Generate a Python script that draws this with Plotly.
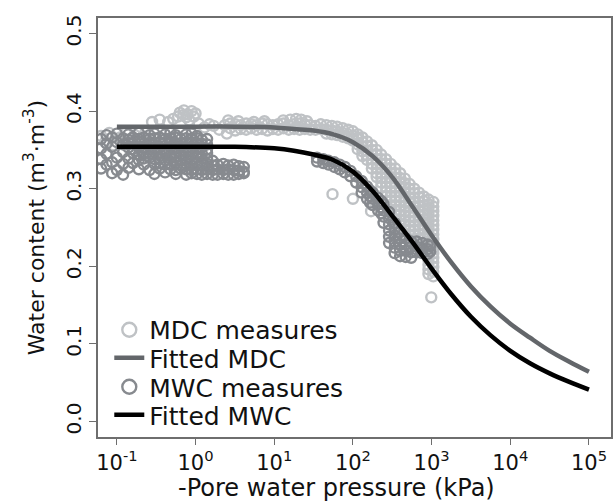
import plotly.graph_objects as go

# ---------------- data ----------------
# Fitted curves: -pore water pressure (kPa) and water content (m3/m3)
fit_p = [0.1, 0.316, 1, 3.16, 10, 17.8, 31.6, 56.2, 100, 178, 316, 562, 1000,
         1778, 3162, 5623, 10000, 17783, 31623, 56234, 100000]
fit_mdc = [0.380, 0.380, 0.380, 0.380, 0.379, 0.377, 0.375, 0.370, 0.360, 0.342,
           0.315, 0.278, 0.240, 0.205, 0.174, 0.148, 0.126, 0.108, 0.091, 0.077, 0.064]
fit_mwc = [0.354, 0.354, 0.354, 0.354, 0.352, 0.349, 0.344, 0.337, 0.322, 0.297,
           0.265, 0.232, 0.197, 0.164, 0.135, 0.111, 0.091, 0.075, 0.062, 0.051, 0.041]

# MDC measures (light grey circles)
mdc_p = [
    0.063, 0.071, 0.08, 0.09, 0.11, 0.13, 0.17, 0.23,
    0.28, 0.35, 0.45, 0.52, 0.60, 0.63, 0.70, 0.71, 0.76, 0.79, 0.83, 0.89, 0.95, 1.0, 1.1, 1.5,
    2.0, 2.75, 3.2, 3.75, 4.4, 5.1, 6.0, 7.0, 8.2, 9.6, 11.2, 13.1, 15.3, 17.9, 21, 24.5, 28.6,
    2.35, 2.75, 3.2, 3.75, 4.4, 5.1, 6.0, 7.0, 8.2, 9.6, 11.2, 13.1, 15.3, 17.9, 21, 24.5, 28.6, 33.5,
    2.6, 3.5, 5.5, 7.5, 13, 16, 19, 22, 26, 2.5, 1.3, 1.7,
    33.5, 39, 39, 46, 46, 46, 54, 54, 54, 63, 63, 63, 74, 74, 74, 87, 87, 87, 100, 100, 100, 117,
    115, 115, 115, 115,
    132, 132, 132, 132, 132,
    151, 151, 151, 151, 151,
    174, 174, 174, 174, 174, 174,
    200, 200, 200, 200, 200, 200, 200,
    229, 229, 229, 229, 229, 229, 229, 229,
    263, 263, 263, 263, 263, 263, 263, 263, 263,
    302, 302, 302, 302, 302, 302, 302, 302, 302, 302, 302,
    347, 347, 347, 347, 347, 347, 347, 347, 347, 347, 347, 347,
    398, 398, 398, 398, 398, 398, 398, 398, 398, 398, 398, 398, 398,
    457, 457, 457, 457, 457, 457, 457, 457, 457, 457, 457, 457, 457,
    525, 525, 525, 525, 525, 525, 525, 525, 525, 525, 525, 525, 525,
    603, 603, 603, 603, 603, 603, 603, 603, 603, 603, 603, 603, 603,
    692, 692, 692, 692, 692, 692, 692, 692, 692, 692, 692, 692, 692,
    794, 794, 794, 794, 794, 794, 794, 794, 794, 794, 794, 794, 794,
    912, 912, 912, 912, 912, 912, 912, 912, 912, 912, 912, 912, 912, 912, 912, 912, 912,
    1050, 1050, 1050, 1050, 1050, 1050, 1050, 1050, 1050, 1050, 1050, 1050, 1050, 1050, 1050, 1050, 1050,
    55, 100, 170, 990,
]
mdc_theta = [
    0.368, 0.360, 0.372, 0.356, 0.366, 0.372, 0.369, 0.372,
    0.386, 0.389, 0.386, 0.390, 0.393, 0.398, 0.395, 0.401, 0.392, 0.396, 0.388, 0.400, 0.393, 0.397, 0.384, 0.383,
    0.376, 0.378, 0.375, 0.377, 0.376, 0.378, 0.376, 0.377, 0.375, 0.377, 0.376, 0.378, 0.376, 0.377, 0.376, 0.377, 0.376,
    0.382, 0.384, 0.383, 0.382, 0.384, 0.383, 0.382, 0.384, 0.383, 0.382, 0.383, 0.384, 0.382, 0.383, 0.384, 0.383, 0.382, 0.381,
    0.388, 0.387, 0.386, 0.387, 0.388, 0.389, 0.390, 0.389, 0.387, 0.371, 0.379, 0.381,
    0.376, 0.383, 0.377, 0.382, 0.376, 0.371, 0.381, 0.375, 0.370, 0.380, 0.374, 0.369, 0.378, 0.372, 0.367, 0.376, 0.370, 0.365, 0.374, 0.368, 0.362, 0.366,
    0.370, 0.364, 0.357, 0.351,
    0.366, 0.360, 0.354, 0.348, 0.342,
    0.361, 0.355, 0.349, 0.343, 0.337,
    0.356, 0.350, 0.344, 0.338, 0.332, 0.326,
    0.350, 0.344, 0.338, 0.332, 0.326, 0.320, 0.315,
    0.344, 0.338, 0.332, 0.326, 0.320, 0.314, 0.308, 0.302,
    0.338, 0.332, 0.326, 0.320, 0.314, 0.308, 0.302, 0.296, 0.290,
    0.332, 0.326, 0.320, 0.314, 0.308, 0.302, 0.296, 0.290, 0.284, 0.278, 0.272,
    0.326, 0.320, 0.314, 0.308, 0.302, 0.296, 0.290, 0.284, 0.278, 0.272, 0.266, 0.260,
    0.320, 0.314, 0.308, 0.302, 0.296, 0.290, 0.284, 0.278, 0.272, 0.266, 0.260, 0.254, 0.248,
    0.313, 0.307, 0.301, 0.295, 0.289, 0.283, 0.277, 0.271, 0.265, 0.259, 0.253, 0.247, 0.241,
    0.306, 0.300, 0.294, 0.288, 0.282, 0.276, 0.270, 0.264, 0.258, 0.252, 0.246, 0.240, 0.234,
    0.300, 0.294, 0.288, 0.282, 0.276, 0.270, 0.264, 0.258, 0.252, 0.246, 0.240, 0.234, 0.229,
    0.295, 0.289, 0.283, 0.277, 0.271, 0.265, 0.259, 0.253, 0.247, 0.241, 0.235, 0.229, 0.224,
    0.290, 0.284, 0.278, 0.272, 0.266, 0.260, 0.254, 0.248, 0.242, 0.236, 0.230, 0.224, 0.219,
    0.286, 0.280, 0.274, 0.268, 0.262, 0.256, 0.250, 0.244, 0.238, 0.232, 0.226, 0.220, 0.214, 0.208, 0.202, 0.196, 0.190,
    0.283, 0.277, 0.271, 0.265, 0.259, 0.253, 0.247, 0.241, 0.235, 0.229, 0.223, 0.217, 0.211, 0.205, 0.199, 0.193, 0.187,
    0.293, 0.287, 0.271, 0.160,
]

# MWC measures (darker grey circles)
mwc_p = [
    0.074, 0.10, 0.14, 0.19, 0.26, 0.30, 0.41, 0.48, 0.56, 0.76, 0.89, 1.04,
    0.063, 0.087, 0.12, 0.14, 0.16, 0.19, 0.22, 0.26, 0.30, 0.35, 0.41, 0.48, 0.56, 0.65, 0.76, 0.89, 1.04, 1.2, 1.4,
    0.074, 0.10, 0.12, 0.14, 0.16, 0.19, 0.22, 0.26, 0.30, 0.35, 0.41, 0.48, 0.56, 0.65, 0.76, 0.89, 1.04, 1.2, 1.4,
    0.063, 0.087, 0.14, 0.16, 0.19, 0.22, 0.26, 0.30, 0.35, 0.41, 0.48, 0.56, 0.65, 0.76, 0.89, 1.04, 1.2, 1.4,
    0.074, 0.12, 0.16, 0.19, 0.22, 0.26, 0.30, 0.35, 0.41, 0.48, 0.56, 0.65, 0.76, 0.89, 1.04, 1.2, 1.4,
    0.063, 0.10, 0.14, 0.19, 0.22, 0.26, 0.30, 0.35, 0.41, 0.48, 0.56, 0.65, 0.76, 0.89, 1.04, 1.2, 1.4, 1.65,
    0.074, 0.087, 0.12, 0.16, 0.22, 0.30, 0.35, 0.41, 0.48, 0.56, 0.65, 0.76, 0.89, 1.04, 1.2, 1.4, 1.65, 1.9, 2.25, 2.6, 3.05, 3.55, 4.1,
    0.063, 0.10, 0.14, 0.19, 0.26, 0.35, 0.48, 0.56, 0.65, 0.76, 0.89, 1.04, 1.2, 1.4, 1.65, 1.9, 2.25, 2.6, 3.05, 3.55, 4.1,
    0.087, 0.12, 0.30, 0.41, 0.56, 0.76, 0.89, 1.04, 1.2, 1.4, 1.65, 1.9, 2.25, 2.6, 3.05, 3.55, 4.1,
    35, 35, 42, 42, 49, 49, 58, 58, 68, 68, 79, 79, 93, 93, 110, 110,
    129, 129, 129, 151, 151, 151, 165, 165, 165, 178, 178, 178, 209, 209, 209, 230, 230, 230,
    245, 245, 245, 245,
    288, 288, 288, 288, 288, 288,
    339, 339, 339, 339, 339, 339,
    398, 398, 398, 398, 398,
    468, 468, 468, 468,
    550, 550, 550, 550,
    646, 646, 646, 759, 759, 759, 891, 891, 891, 960, 960,
]
mwc_theta = [
    0.369, 0.371, 0.370, 0.372, 0.369, 0.371, 0.370, 0.372, 0.369, 0.370, 0.371, 0.368,
    0.364, 0.366, 0.365, 0.363, 0.366, 0.364, 0.366, 0.364, 0.365, 0.366, 0.364, 0.365, 0.366, 0.364, 0.365, 0.364, 0.365, 0.363, 0.364,
    0.358, 0.360, 0.357, 0.359, 0.358, 0.360, 0.358, 0.359, 0.357, 0.359, 0.360, 0.358, 0.359, 0.358, 0.360, 0.358, 0.359, 0.358, 0.357,
    0.352, 0.354, 0.353, 0.351, 0.353, 0.352, 0.354, 0.352, 0.353, 0.351, 0.353, 0.352, 0.354, 0.352, 0.353, 0.352, 0.353, 0.351,
    0.345, 0.347, 0.346, 0.344, 0.346, 0.345, 0.347, 0.345, 0.346, 0.344, 0.346, 0.345, 0.347, 0.345, 0.346, 0.345, 0.346,
    0.338, 0.340, 0.339, 0.337, 0.339, 0.340, 0.338, 0.339, 0.337, 0.339, 0.340, 0.338, 0.339, 0.338, 0.340, 0.339, 0.338, 0.336,
    0.331, 0.334, 0.332, 0.333, 0.331, 0.332, 0.333, 0.331, 0.332, 0.333, 0.331, 0.332, 0.330, 0.332, 0.331, 0.332, 0.330, 0.331, 0.332, 0.330, 0.331, 0.329, 0.328,
    0.326, 0.324, 0.327, 0.325, 0.324, 0.326, 0.325, 0.324, 0.326, 0.325, 0.324, 0.325, 0.324, 0.325, 0.324, 0.325, 0.324, 0.325, 0.324, 0.323, 0.322,
    0.320, 0.318, 0.319, 0.321, 0.319, 0.318, 0.320, 0.319, 0.318, 0.319, 0.318, 0.318, 0.319, 0.318, 0.318, 0.319, 0.320,
    0.340, 0.335, 0.338, 0.333, 0.336, 0.331, 0.334, 0.328, 0.331, 0.325, 0.328, 0.321, 0.323, 0.316, 0.316, 0.308,
    0.310, 0.302, 0.295, 0.303, 0.295, 0.287, 0.298, 0.290, 0.282, 0.295, 0.287, 0.279, 0.288, 0.280, 0.272, 0.284, 0.276, 0.268,
    0.280, 0.272, 0.264, 0.256,
    0.270, 0.262, 0.254, 0.246, 0.238, 0.230,
    0.256, 0.248, 0.240, 0.232, 0.224, 0.217,
    0.244, 0.236, 0.228, 0.220, 0.213,
    0.236, 0.228, 0.220, 0.212,
    0.232, 0.225, 0.218, 0.211,
    0.232, 0.225, 0.218, 0.230, 0.223, 0.217, 0.228, 0.222, 0.216, 0.226, 0.219,
]

x_tick_vals = [0.1, 1, 10, 100, 1000, 10000, 100000]
x_tick_text = ["10<sup>-1</sup>", "10<sup>0</sup>", "10<sup>1</sup>", "10<sup>2</sup>",
               "10<sup>3</sup>", "10<sup>4</sup>", "10<sup>5</sup>"]
y_tick_vals = [0.0, 0.1, 0.2, 0.3, 0.4, 0.5]
y_tick_text = ["0.0", "0.1", "0.2", "0.3", "0.4", "0.5"]

# ---------------- styling ----------------
C_MDC_PTS = "#bfc2c5"
C_MWC_PTS = "#878a8f"
C_MDC_LINE = "#63666a"
C_MWC_LINE = "#000000"
FONT = "DejaVu Sans, Liberation Sans, Arial, sans-serif"
TXT = "#111111"

fig = go.Figure()

fig.add_trace(go.Scatter(x=mdc_p, y=mdc_theta, mode="markers", showlegend=False,
                         marker=dict(symbol="circle-open", size=10, color=C_MDC_PTS,
                                     line=dict(width=2.4, color=C_MDC_PTS))))
fig.add_trace(go.Scatter(x=mwc_p, y=mwc_theta, mode="markers", showlegend=False,
                         marker=dict(symbol="circle-open", size=10, color=C_MWC_PTS,
                                     line=dict(width=2.4, color=C_MWC_PTS))))
fig.add_trace(go.Scatter(x=fit_p, y=fit_mdc, mode="lines", name="Fitted MDC", legend="legend2",
                         line=dict(color=C_MDC_LINE, width=4.5, shape="spline")))
fig.add_trace(go.Scatter(x=fit_p, y=fit_mwc, mode="lines", name="Fitted MWC", legend="legend4",
                         line=dict(color=C_MWC_LINE, width=4.5, shape="spline")))
# legend-only entries for the measures (larger symbol like the original key)
fig.add_trace(go.Scatter(x=[None], y=[None], mode="markers", name="MDC measures", legend="legend",
                         marker=dict(symbol="circle-open", size=14, color=C_MDC_PTS,
                                     line=dict(width=2.4, color=C_MDC_PTS))))
fig.add_trace(go.Scatter(x=[None], y=[None], mode="markers", name="MWC measures", legend="legend3",
                         marker=dict(symbol="circle-open", size=14, color=C_MWC_PTS,
                                     line=dict(width=2.4, color=C_MWC_PTS))))

axis_common = dict(showgrid=False, zeroline=False, showline=True, mirror=True,
                   linecolor="#6e6e6e", linewidth=1.5, ticks="outside",
                   tickwidth=1.2, tickcolor="#6e6e6e")

fig.update_xaxes(type="log", range=[-1.24, 5.28], tickvals=x_tick_vals, ticktext=x_tick_text,
                 ticklen=6, tickfont=dict(family=FONT, size=21, color=TXT), **axis_common)
fig.update_yaxes(range=[-0.02, 0.52], tickvals=y_tick_vals, ticktext=y_tick_text, tickangle=-90,
                 ticklen=7, tickfont=dict(family=FONT, size=20, color=TXT),
                 title=dict(text="Water content (m<sup>3</sup>·m<sup>-3</sup>)", standoff=12,
                            font=dict(family=FONT, size=22, color=TXT)),
                 **axis_common)

# x-axis title (placed slightly left of centre, as in the original)
fig.add_annotation(text="-Pore water pressure (kPa)", xref="paper", yref="paper",
                   x=0.464, y=0, yshift=-67, xanchor="center", yanchor="bottom",
                   showarrow=False, font=dict(family=FONT, size=24, color=TXT))

leg_common = dict(x=0.022, xanchor="left", yanchor="middle", bgcolor="rgba(0,0,0,0)",
                  font=dict(family=FONT, size=25, color=TXT), itemwidth=30,
                  borderwidth=0)
fig.update_layout(
    width=615, height=504,
    margin=dict(l=98, r=2, t=18, b=67),
    paper_bgcolor="white", plot_bgcolor="white",
    font=dict(family=FONT, size=23, color=TXT),
    legend=dict(y=0.2554, **leg_common),
    legend2=dict(y=0.1885, **leg_common),
    legend3=dict(y=0.1193, **leg_common),
    legend4=dict(y=0.0525, **leg_common),
)

fig.write_html("out.html")
